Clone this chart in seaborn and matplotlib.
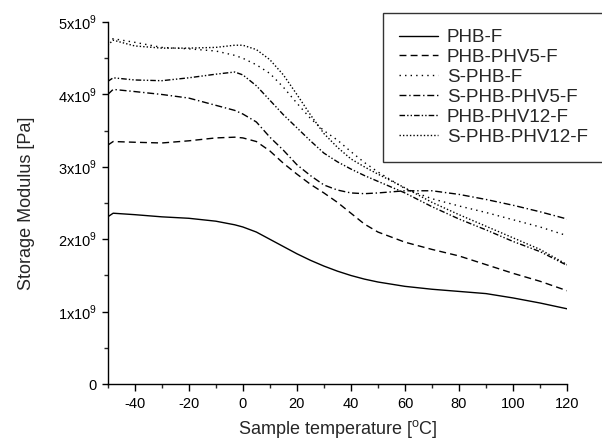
import matplotlib
matplotlib.use("Agg")
import matplotlib.pyplot as plt
import seaborn as sns
import pandas as pd
from matplotlib.ticker import FuncFormatter, MultipleLocator

# temperature grid (degC) and storage modulus in units of 1e9 Pa
temps = [-50, -48, -40, -30, -20, -10, -3, 0, 5, 10, 15, 20, 25, 30, 35,
         40, 45, 50, 60, 70, 80, 90, 100, 110, 120]

phb_f = [2.31, 2.36, 2.34, 2.31, 2.29, 2.25, 2.20, 2.17, 2.10, 2.00, 1.90, 1.80,
         1.71, 1.63, 1.56, 1.50, 1.45, 1.41, 1.35, 1.31, 1.28, 1.25, 1.19, 1.12, 1.04]
phb_phv5_f = [3.30, 3.35, 3.34, 3.33, 3.36, 3.40, 3.41, 3.40, 3.35, 3.22, 3.05, 2.90,
              2.76, 2.64, 2.51, 2.36, 2.21, 2.10, 1.96, 1.86, 1.77, 1.65, 1.53, 1.42, 1.29]
s_phb_f = [4.72, 4.77, 4.72, 4.65, 4.63, 4.60, 4.54, 4.50, 4.41, 4.29, 4.10, 3.88,
           3.67, 3.50, 3.37, 3.21, 3.06, 2.93, 2.70, 2.56, 2.46, 2.37, 2.27, 2.17, 2.05]
s_phb_phv5_f = [4.00, 4.07, 4.04, 4.00, 3.95, 3.85, 3.78, 3.73, 3.62, 3.41, 3.23, 3.03,
                2.88, 2.75, 2.68, 2.64, 2.63, 2.64, 2.67, 2.67, 2.62, 2.55, 2.47, 2.38, 2.28]
phb_phv12_f = [4.18, 4.23, 4.20, 4.19, 4.23, 4.28, 4.31, 4.27, 4.12, 3.92, 3.72, 3.54,
               3.36, 3.19, 3.07, 2.97, 2.88, 2.80, 2.64, 2.45, 2.28, 2.13, 1.97, 1.83, 1.64]
s_phb_phv12_f = [4.68, 4.75, 4.67, 4.64, 4.64, 4.65, 4.68, 4.68, 4.62, 4.48, 4.27, 4.00,
                 3.72, 3.46, 3.27, 3.11, 3.00, 2.90, 2.71, 2.51, 2.34, 2.18, 2.02, 1.86, 1.65]

names = ["PHB-F", "PHB-PHV5-F", "S-PHB-F", "S-PHB-PHV5-F", "PHB-PHV12-F", "S-PHB-PHV12-F"]
series = [phb_f, phb_phv5_f, s_phb_f, s_phb_phv5_f, phb_phv12_f, s_phb_phv12_f]

styles = {
    "PHB-F": "-",
    "PHB-PHV5-F": (0, (5, 3)),
    "S-PHB-F": (0, (1, 3)),
    "S-PHB-PHV5-F": (0, (5, 2, 1, 2)),
    "PHB-PHV12-F": (0, (4, 1.5, 1, 1.5, 1, 1.5)),
    "S-PHB-PHV12-F": (0, (1, 1.5)),
}

sns.set_style("ticks")
plt.rcParams["font.family"] = ["Liberation Sans", "DejaVu Sans"]
plt.rcParams["mathtext.fontset"] = "custom"
plt.rcParams["mathtext.rm"] = "Liberation Sans"
plt.rcParams["axes.unicode_minus"] = False

fig = plt.figure(figsize=(6.02, 4.41), dpi=100)
ax = fig.add_axes([0.179, 0.129, 0.763, 0.821])

for name, vals in zip(names, series):
    df = pd.DataFrame({"T": temps, "E": vals})
    sns.lineplot(data=df, x="T", y="E", ax=ax, color="black", lw=1.0,
                 linestyle=styles[name], label=name)

ax.set_xlim(-50, 120)
ax.set_ylim(0, 5)
ax.xaxis.set_major_locator(MultipleLocator(20))
ax.xaxis.set_minor_locator(MultipleLocator(10))
ax.yaxis.set_major_locator(MultipleLocator(1))
ax.yaxis.set_minor_locator(MultipleLocator(0.5))
ax.yaxis.set_major_formatter(FuncFormatter(
    lambda v, p: "0" if v == 0 else r"%dx10$^{9}$" % int(round(v))))
ax.tick_params(which="major", direction="out", length=4, width=1, labelsize=10.5,
               colors="black", pad=4)
ax.tick_params(which="minor", direction="out", length=3, width=1)
ax.tick_params(axis="x", which="major", length=5)
sns.despine(ax=ax)
for s in ["left", "bottom"]:
    ax.spines[s].set_linewidth(1.0)
    ax.spines[s].set_color("black")

ax.set_xlabel(r"Sample temperature [$^{\mathrm{o}}$C]", fontsize=13, labelpad=5)
ax.set_ylabel("Storage Modulus [Pa]", fontsize=13, labelpad=16)

leg = ax.legend(loc="upper left", bbox_to_anchor=(383 / 602, 1 - 13 / 441),
                bbox_transform=fig.transFigure, frameon=True, fancybox=False,
                fontsize=13.5, handlelength=2.1, handletextpad=0.45,
                labelspacing=0.15, borderpad=0.85, borderaxespad=0)
leg.get_frame().set_edgecolor("black")
leg.get_frame().set_linewidth(1.0)
leg.set_clip_on(False)

fig.savefig("out.png", dpi=100)
